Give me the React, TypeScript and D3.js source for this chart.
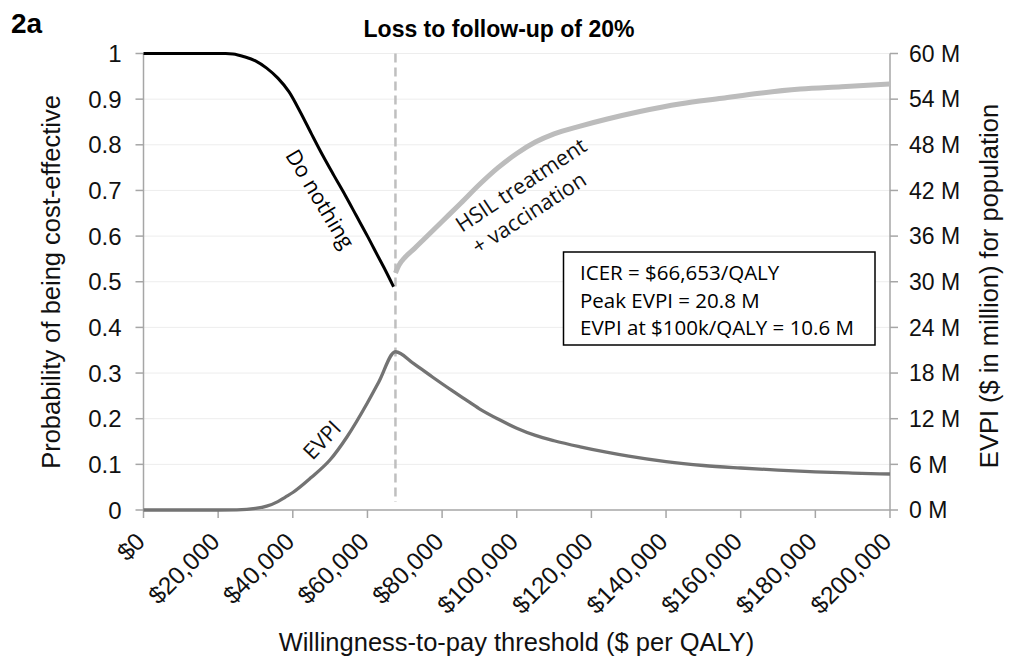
import React from 'react';
import * as d3 from 'd3';

// ---- Data ----
const wtpTicks = [0, 20000, 40000, 60000, 80000, 100000, 120000, 140000, 160000, 180000, 200000];
const probTicks = [0, 0.1, 0.2, 0.3, 0.4, 0.5, 0.6, 0.7, 0.8, 0.9, 1];
const evpiTicks = [0, 6, 12, 18, 24, 30, 36, 42, 48, 54, 60];

const wtpDoNothing = [0, 10000, 20000, 22000, 24000, 27000, 30000, 33000, 36000, 39000, 42000, 45000, 48000, 51000, 54000, 57000, 60000, 63000, 65000, 67000];
const probDoNothing = [1, 1, 1, 1, 0.999, 0.993, 0.984, 0.968, 0.946, 0.916, 0.872, 0.824, 0.777, 0.733, 0.69, 0.645, 0.6, 0.553, 0.522, 0.489];

const wtpHsil = [67500, 68500, 70000, 72500, 75000, 80000, 85000, 90000, 95000, 100000, 105000, 110000, 117000, 124000, 133000, 144000, 155000, 165000, 176000, 187000, 200000];
const probHsil = [0.519, 0.537, 0.553, 0.572, 0.592, 0.632, 0.672, 0.713, 0.75, 0.781, 0.806, 0.824, 0.841, 0.856, 0.873, 0.89, 0.902, 0.913, 0.922, 0.927, 0.933];

const wtpEvpi = [0, 20000, 25000, 30000, 33000, 36000, 38000, 40000, 45000, 50000, 54500, 60000, 63000, 67500, 72500, 77500, 82500, 86000, 90000, 95000, 100000, 105000, 110000, 117000, 124000, 130000, 140000, 150000, 160000, 170000, 180000, 190000, 200000];
const evpiM = [0, 0, 0.02, 0.2, 0.5, 1.1, 1.7, 2.3, 4.3, 6.6, 9.6, 14.1, 16.8, 20.8, 19.2, 17.45, 15.75, 14.6, 13.3, 11.95, 10.75, 9.8, 9.1, 8.3, 7.6, 7.07, 6.35, 5.85, 5.52, 5.24, 5.01, 4.85, 4.73];

const icerLine = 67500;
const boxLines = ['ICER = $66,653/QALY', 'Peak EVPI = 20.8 M', 'EVPI at $100k/QALY = 10.6 M'];

const W = 1009;
const H = 663;
const L = 143.5, R = 890, T = 53.5, B = 510;

export default function App() {
  const x = d3.scaleLinear().domain([0, 200000]).range([L, R]);
  const y = d3.scaleLinear().domain([0, 1]).range([B, T]);
  const y2 = d3.scaleLinear().domain([0, 60]).range([B, T]);

  const lineP = d3.line<[number, number]>().x(d => x(d[0])).y(d => y(d[1])).curve(d3.curveMonotoneX);
  const lineE = d3.line<[number, number]>().x(d => x(d[0])).y(d => y2(d[1])).curve(d3.curveMonotoneX);

  const dn = lineP(wtpDoNothing.map((w, i) => [w, probDoNothing[i]] as [number, number])) || '';
  const hs = lineP(wtpHsil.map((w, i) => [w, probHsil[i]] as [number, number])) || '';
  const ev = lineE(wtpEvpi.map((w, i) => [w, evpiM[i]] as [number, number])) || '';

  const fmt = d3.format('$,');
  const axisColor = '#a6a6a6';
  const arial = '"Liberation Sans", Arial, sans-serif';
  const calibri = '"Open Sans", sans-serif';

  return (
    <svg width={W} height={H} style={{ position: 'absolute', left: 0, top: 0, background: '#fff' }} fontFamily={arial}>
      <rect x={0} y={0} width={W} height={H} fill="#fff" />
      {/* gridlines */}
      {probTicks.filter(t => t > 0).map(t => (
        <line key={'g' + t} x1={L} x2={R} y1={y(t)} y2={y(t)} stroke="#ededed" strokeWidth={1} />
      ))}
      {/* axes */}
      <line x1={L} x2={L} y1={T} y2={B} stroke={axisColor} strokeWidth={1.5} />
      <line x1={R} x2={R} y1={T} y2={B} stroke={axisColor} strokeWidth={1.5} />
      <line x1={L} x2={R} y1={B} y2={B} stroke={axisColor} strokeWidth={1.5} />
      {probTicks.map(t => (
        <g key={'l' + t}>
          <line x1={L - 8} x2={L} y1={y(t)} y2={y(t)} stroke={axisColor} strokeWidth={1.5} />
          <text x={L - 22} y={y(t)} dy="0.36em" textAnchor="end" fontSize={24} fill="#111">{String(t)}</text>
        </g>
      ))}
      {evpiTicks.map(t => (
        <g key={'r' + t}>
          <line x1={R} x2={R + 8} y1={y2(t)} y2={y2(t)} stroke={axisColor} strokeWidth={1.5} />
          <text x={R + 19} y={y2(t)} dy="0.36em" textAnchor="start" fontSize={23} fill="#111">{t + ' M'}</text>
        </g>
      ))}
      {wtpTicks.map(t => (
        <g key={'b' + t}>
          <line x1={x(t)} x2={x(t)} y1={B} y2={B + 8} stroke={axisColor} strokeWidth={1.5} />
          <text transform={`translate(${x(t) + 3},${B + 33}) rotate(-45)`} textAnchor="end" fontSize={24.5} fill="#111">{fmt(t)}</text>
        </g>
      ))}
      {/* ICER dashed line */}
      <line x1={x(icerLine)} x2={x(icerLine)} y1={T} y2={B - 8} stroke="#bfbfbf" strokeWidth={2.5} strokeDasharray="9,5" />
      {/* curves */}
      <path d={ev} fill="none" stroke="#737373" strokeWidth={3.3} />
      <path d={hs} fill="none" stroke="#bcbcbc" strokeWidth={5} />
      <path d={dn} fill="none" stroke="#000" strokeWidth={3} />
      {/* curve labels */}
      <text transform="translate(320,199) rotate(59)" textAnchor="middle" dy="0.35em" fontFamily={calibri} fontSize={21.5} fill="#000">Do nothing</text>
      <text transform="translate(322,440) rotate(-46.5)" textAnchor="middle" dy="0.35em" fontFamily={calibri} fontSize={21.5} fill="#111">EVPI</text>
      <text transform="translate(521,185) rotate(-33.5)" textAnchor="middle" dy="0.35em" fontFamily={calibri} fontSize={21.5} fill="#111">HSIL treatment</text>
      <text transform="translate(529,213) rotate(-33)" textAnchor="middle" dy="0.35em" fontFamily={calibri} fontSize={21.5} fill="#111">+ vaccination</text>
      {/* info box */}
      <rect x={563.5} y={252} width={311.5} height={93} fill="#fff" stroke="#000" strokeWidth={1.5} />
      {boxLines.map((s, i) => (
        <text key={s} x={580} y={273 + i * 27.5} dy="0.35em" fontFamily={calibri} fontSize={20.5} fill="#000">{s}</text>
      ))}
      {/* titles */}
      <text x={499} y={37} textAnchor="middle" fontWeight="bold" fontSize={23} fill="#000">Loss to follow-up of 20%</text>
      <text x={11} y={33} fontWeight="bold" fontSize={28} fill="#000">2a</text>
      <text x={516.5} y={651} textAnchor="middle" fontSize={25.5} fill="#111">Willingness-to-pay threshold ($ per QALY)</text>
      <text transform="translate(60,282) rotate(-90)" textAnchor="middle" fontSize={25.5} fill="#111">Probability of being cost-effective</text>
      <text transform="translate(998,286) rotate(-90)" textAnchor="middle" fontSize={25.5} fill="#111">EVPI ($ in million) for population</text>
    </svg>
  );
}
